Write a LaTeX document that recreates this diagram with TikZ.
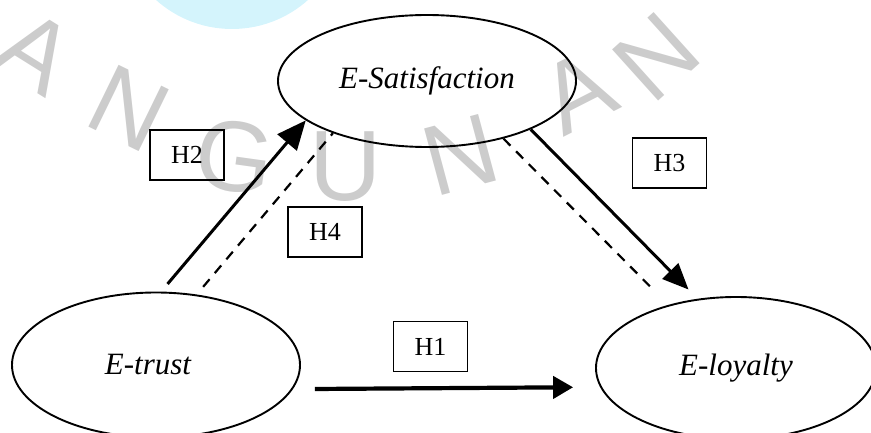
\documentclass[tikz,border=0pt]{standalone}
\usepackage{fontspec}
\setmainfont{Liberation Serif}
\newfontfamily\wmfont{Liberation Sans}
\usetikzlibrary{shapes.geometric,arrows.meta}
\definecolor{wmgray}{gray}{0.8}
\definecolor{wmcyan}{RGB}{212,244,252}
\tikzset{
  construct/.style={ellipse,draw,line width=1.9pt,inner sep=0pt,
    font=\fontsize{31}{36}\selectfont\itshape},
  hypbox/.style={draw,line width=1.8pt,minimum width=74pt,minimum height=50pt,
    inner sep=0pt,font=\fontsize{26}{30}\selectfont},
  patharrow/.style={line width=3pt,-{Triangle[length=29pt,width=25pt]}},
  pathdash/.style={line width=2.2pt,dash pattern=on 10pt off 8pt},
}

\begin{document}
\begin{tikzpicture}[x=1pt,y=-1pt]
  \useasboundingbox (0,0) rectangle (871,433);
  \clip (0,0) rectangle (871,433);
  % watermark
  \fill[wmcyan] (232,-85) circle (114pt);
  \foreach \x/\y/\r/\l in {36/52/-32/A,129/108/-26/N,235/157/-8/G,346/167/0/U,
                          460/155/15/N,578/92/27/A,656/57/42/N} {
    \node[wmgray,rotate=\r,inner sep=0pt,font=\wmfont\fontsize{100}{100}\selectfont] at (\x,\y) {\l};
  }
  % constructs
  \node[construct,minimum width=298pt,minimum height=132pt] (sat) at (427,81) {E-Satisfaction};
  \node[construct,minimum width=288pt,minimum height=145pt] (trust) at (156,365) {E-trust\hspace*{16pt}};
  \node[construct,minimum width=280pt,minimum height=142pt] (loyal) at (736,368) {E-loyalty};
  % hypotheses
  \node[hypbox] (h1) at (430.5,346.5) {H1};
  \node[hypbox] (h2) at (187,155) {H2};
  \node[hypbox] (h3) at (669.5,163) {H3};
  \node[hypbox] (h4) at (325,232) {H4};
  % paths
  \draw[patharrow,shorten <=10pt] (trust.86) -- (sat.198);
  \draw[pathdash,shorten <=10pt] (trust.60) -- (sat.209);
  \draw[patharrow,-{Triangle[length=26pt,width=22pt]},shorten >=13pt] (sat.335) -- (loyal.119);
  \draw[pathdash,shorten >=20pt] (sat.323) -- (loyal.137);
  \draw[patharrow,line width=4.2pt,-{Triangle[length=20pt,width=22pt]},
    shorten <=22pt,shorten >=27pt] (trust.350) -- (loyal.188.5);
\end{tikzpicture}
\end{document}
